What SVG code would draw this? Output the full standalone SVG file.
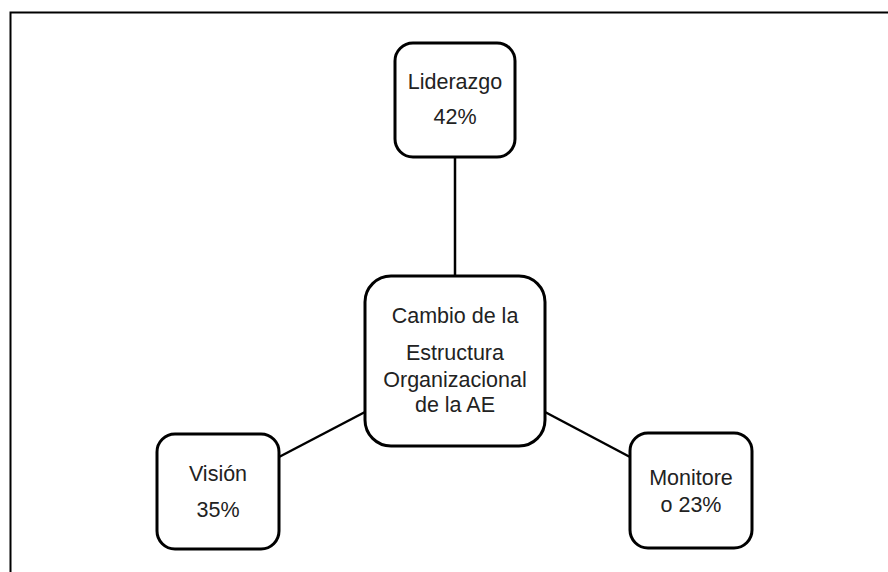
<svg xmlns="http://www.w3.org/2000/svg" width="888" height="572" viewBox="0 0 888 572">
<style>
.box{fill:#fff;stroke:#000;stroke-width:3}
.con{stroke:#000;stroke-width:2.5;fill:none}
text{font-family:"Liberation Sans",Arial,sans-serif;font-size:21.5px;fill:#222;text-anchor:middle}
</style>
<rect width="888" height="572" fill="#fff"/>
<path d="M10.5 572 V12.5 H888" fill="none" stroke="#000" stroke-width="2"/>
<g id="connectors">
<line class="con" x1="455" y1="157" x2="455" y2="276"/>
<line class="con" x1="279" y1="457" x2="365" y2="412"/>
<line class="con" x1="545" y1="412" x2="630" y2="457"/>
</g>
<g id="liderazgo">
<rect class="box" x="395" y="43" width="120" height="114" rx="18"/>
<text x="455" y="89">Liderazgo</text>
<text x="455" y="124">42%</text>
</g>
<g id="cambio">
<rect class="box" x="365" y="276" width="180" height="170" rx="26"/>
<text x="455" y="323" font-size="22">Cambio de la</text>
<text x="455" y="360" font-size="22">Estructura</text>
<text x="455" y="387" font-size="22">Organizacional</text>
<text x="455" y="412" font-size="22">de la AE</text>
</g>
<g id="vision">
<rect class="box" x="157" y="434" width="122" height="115" rx="18"/>
<text x="218" y="481">Visión</text>
<text x="218" y="517">35%</text>
</g>
<g id="monitoreo">
<rect class="box" x="630" y="433" width="122" height="115" rx="18"/>
<text x="691" y="485">Monitore</text>
<text x="691" y="512">o 23%</text>
</g>
</svg>
